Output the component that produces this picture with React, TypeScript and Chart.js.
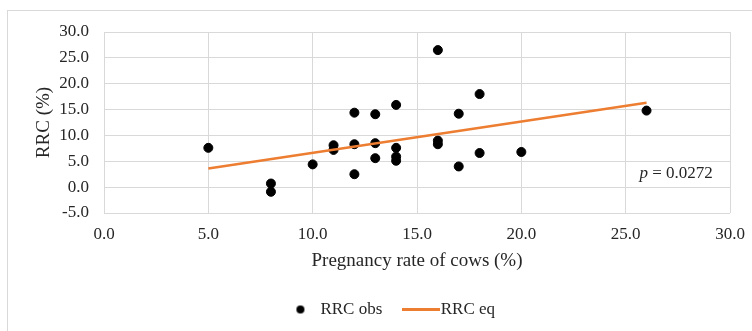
import React, { useEffect, useRef } from "react";
import { Chart, registerables } from "chart.js";

Chart.register(...registerables);

// ---- data ----
const obsX = [5, 8, 8, 10, 11, 11, 12, 12, 12, 13, 13, 13, 14, 14, 14, 14, 16, 16, 16, 17, 17, 18, 18, 20, 26];
const obsY = [7.6, 0.7, -0.9, 4.4, 8.1, 7.2, 14.4, 8.3, 2.5, 14.1, 8.5, 5.6, 15.9, 7.6, 5.9, 5.1, 26.5, 9.0, 8.3, 14.2, 4.0, 18.0, 6.6, 6.8, 14.8];
const eqX = [5, 26];
const eqY = [3.6, 16.3];
const xTicks = [0, 5, 10, 15, 20, 25, 30];
const yTicks = [-5, 0, 5, 10, 15, 20, 25, 30];
const seriesNames = ["RRC obs", "RRC eq"];
const xTitle = "Pregnancy rate of cows (%)";
const yTitle = "RRC (%)";
const pLetter = "p";
const pRest = " = 0.0272";
const pAnchor = { x: 25.66, y: 2.6 };

const FONT = "'Liberation Serif', 'Times New Roman', serif";
const TEXT = "#262626";
const GRID = "#d9d9d9";
const ORANGE = "#ED7D31";

export default function App() {
  const ref = useRef<HTMLCanvasElement | null>(null);

  useEffect(() => {
    const canvas = ref.current;
    if (!canvas) return;

    const dotImg = document.createElement("canvas");
    dotImg.width = 10;
    dotImg.height = 10;
    const dctx = dotImg.getContext("2d")!;
    dctx.fillStyle = "#000";
    dctx.beginPath();
    dctx.arc(5, 5, 4, 0, Math.PI * 2);
    dctx.fill();

    const lineImg = document.createElement("canvas");
    lineImg.width = 38;
    lineImg.height = 3;
    const lctx = lineImg.getContext("2d")!;
    lctx.fillStyle = ORANGE;
    lctx.fillRect(0, 0, 38, 3);

    const pPlugin = {
      id: "pNote",
      afterDatasetsDraw(chart: any) {
        const { ctx, scales } = chart;
        const x = scales.x.getPixelForValue(pAnchor.x);
        const y = scales.y.getPixelForValue(pAnchor.y);
        ctx.save();
        ctx.fillStyle = TEXT;
        ctx.textBaseline = "middle";
        ctx.textAlign = "left";
        ctx.font = `italic 17px ${FONT}`;
        ctx.fillText(pLetter, x, y);
        const w = ctx.measureText(pLetter).width;
        ctx.font = `17px ${FONT}`;
        ctx.fillText(pRest, x + w, y);
        ctx.restore();
      },
    };

    const chart = new Chart(canvas, {
      type: "scatter",
      data: {
        datasets: [
          {
            type: "scatter",
            label: seriesNames[0],
            data: obsX.map((x, i) => ({ x, y: obsY[i] })),
            backgroundColor: "#000",
            borderColor: "#000",
            pointRadius: 4.5,
            pointHoverRadius: 4.5,
            order: 1,
          },
          {
            type: "line",
            label: seriesNames[1],
            data: eqX.map((x, i) => ({ x, y: eqY[i] })),
            borderColor: ORANGE,
            backgroundColor: ORANGE,
            borderWidth: 2.5,
            pointRadius: 0,
            fill: false,
            tension: 0,
            order: 0,
          } as any,
        ],
      },
      options: {
        responsive: false,
        animation: false,
        layout: { padding: { left: 54, right: 22, top: 32, bottom: 3 } },
        plugins: {
          tooltip: { enabled: false },
          legend: {
            position: "bottom",
            labels: {
              usePointStyle: true,
              pointStyleWidth: 23,
              padding: 27,
              color: TEXT,
              font: { family: FONT, size: 17 },
              generateLabels: () => [
                { text: seriesNames[0], pointStyle: dotImg as any, fillStyle: "#000", strokeStyle: "#000", lineWidth: 0, hidden: false, datasetIndex: 0, fontColor: TEXT },
                { text: seriesNames[1], pointStyle: lineImg as any, fillStyle: ORANGE, strokeStyle: ORANGE, lineWidth: 0, hidden: false, datasetIndex: 1, fontColor: TEXT },
              ],
            },
          },
        },
        scales: {
          x: {
            type: "linear",
            min: xTicks[0],
            max: xTicks[xTicks.length - 1],
            afterBuildTicks: (s: any) => {
              s.ticks = xTicks.map((v) => ({ value: v }));
            },
            afterFit: (s: any) => {
              s.height = 61;
              s.paddingLeft = 0;
              s.paddingRight = 0;
            },
            ticks: {
              callback: (v: any) => Number(v).toFixed(1),
              padding: 11,
              color: TEXT,
              font: { family: FONT, size: 17 },
              maxRotation: 0,
              autoSkip: false,
            },
            grid: { color: GRID, lineWidth: 1, drawTicks: false },
            border: { display: false },
            title: {
              display: true,
              text: xTitle,
              color: TEXT,
              font: { family: FONT, size: 19, lineHeight: 1.2 },
              padding: { top: 0, bottom: 1.6 },
            },
          },
          y: {
            type: "linear",
            min: yTicks[0],
            max: yTicks[yTicks.length - 1],
            afterBuildTicks: (s: any) => {
              s.ticks = yTicks.map((v) => ({ value: v }));
            },
            afterFit: (s: any) => {
              s.width = 50;
              s.paddingTop = 0;
              s.paddingBottom = 0;
            },
            ticks: {
              callback: (v: any) => Number(v).toFixed(1),
              padding: 15,
              color: TEXT,
              font: { family: FONT, size: 17 },
              autoSkip: false,
            },
            grid: { color: GRID, lineWidth: 1, drawTicks: false },
            border: { display: false },
            title: {
              display: true,
              text: yTitle,
              color: TEXT,
              font: { family: FONT, size: 19, lineHeight: 1.2 },
              padding: { top: -21.4, bottom: 0 },
            },
          },
        },
      } as any,
      plugins: [pPlugin],
    });

    return () => chart.destroy();
  }, []);

  return (
    <div style={{ position: "fixed", left: 0, top: 0, width: 752, height: 331, overflow: "hidden", background: "#fff" }}>
      <div
        style={{
          position: "absolute",
          left: 7,
          top: 10,
          width: 820,
          height: 400,
          border: "1px solid #d9d9d9",
          boxSizing: "border-box",
        }}
      />
      <canvas
        ref={ref}
        width={752}
        height={331}
        style={{ position: "absolute", left: 0, top: 0, width: 752, height: 331 }}
      />
    </div>
  );
}
